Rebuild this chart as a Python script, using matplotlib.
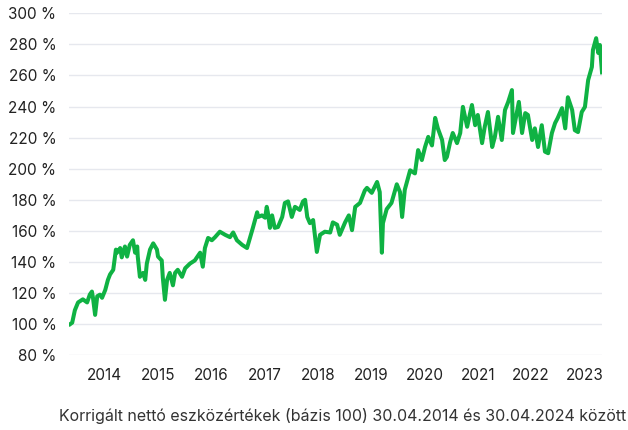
import matplotlib.pyplot as plt

# adatok (év, index)
evek = [2014.35, 2014.39, 2014.44, 2014.50, 2014.59, 2014.67, 2014.72, 2014.76, 2014.78, 2014.82,
        2014.86, 2014.91, 2014.95, 2015.01, 2015.06, 2015.10, 2015.16, 2015.21, 2015.23, 2015.29,
        2015.32, 2015.38, 2015.42, 2015.47, 2015.53, 2015.57, 2015.61, 2015.62, 2015.66, 2015.72,
        2015.76, 2015.79, 2015.85, 2015.91, 2015.98, 2016.00, 2016.07, 2016.09, 2016.13, 2016.17,
        2016.22, 2016.28, 2016.32, 2016.37, 2016.45, 2016.51, 2016.60, 2016.69, 2016.79, 2016.84,
        2016.88, 2016.94, 2017.01, 2017.07, 2017.16, 2017.26, 2017.35, 2017.41, 2017.48, 2017.58,
        2017.67, 2017.73, 2017.78, 2017.86, 2017.88, 2017.95, 2018.01, 2018.04, 2018.06, 2018.10,
        2018.14, 2018.19, 2018.25, 2018.33, 2018.38, 2018.44, 2018.51, 2018.57, 2018.66, 2018.72,
        2018.76, 2018.80, 2018.85, 2018.91, 2018.98, 2019.04, 2019.13, 2019.23, 2019.28, 2019.36,
        2019.41, 2019.51, 2019.58, 2019.64, 2019.70, 2019.79, 2019.88, 2019.92, 2020.01, 2020.11,
        2020.16, 2020.20, 2020.22, 2020.29, 2020.38, 2020.48, 2020.54, 2020.58, 2020.63, 2020.73,
        2020.82, 2020.88, 2020.95, 2021.01, 2021.07, 2021.14, 2021.20, 2021.25, 2021.33, 2021.38,
        2021.42, 2021.48, 2021.53, 2021.61, 2021.67, 2021.72, 2021.80, 2021.89, 2021.95, 2022.00,
        2022.08, 2022.13, 2022.19, 2022.27, 2022.32, 2022.38, 2022.45, 2022.51, 2022.57, 2022.64,
        2022.66, 2022.74, 2022.77, 2022.83, 2022.89, 2022.94, 2023.02, 2023.07, 2023.13, 2023.20,
        2023.26, 2023.32, 2023.39, 2023.45, 2023.50, 2023.58, 2023.64, 2023.69, 2023.77, 2023.82,
        2023.88, 2023.95, 2024.01, 2024.07, 2024.14, 2024.16, 2024.22, 2024.26, 2024.29, 2024.33]
ertekek = [100, 101, 109, 114, 116, 114, 119, 121, 117, 106,
           118, 119, 117, 122, 128.5, 132, 135, 148, 146, 149,
           143, 150, 143.5, 151, 154, 146, 150, 143.5, 130.5, 133,
           128.5, 139, 148, 152, 148, 143.5, 141, 130, 115.7, 128.5,
           133, 125, 133, 135, 130.5, 136, 139, 141, 146, 137,
           149, 155.5, 154, 156, 159.5, 157.5, 156, 159, 154, 151,
           149, 156, 162, 172, 169, 170, 168.5, 175.5, 172, 162,
           170, 162, 162.5, 169, 178, 179, 169, 175.5, 173.5, 179,
           180, 169, 165, 167, 146.5, 157.5, 159.5, 159, 165.5, 164,
           157.5, 165.5, 170, 160.5, 175.5, 178, 186, 187.7, 184.5, 191.5,
           185, 146, 165, 174, 178, 190, 185, 169, 186.5, 199,
           197, 212, 205.6, 214, 220.5, 215, 232.7, 226, 218.5, 205.6,
           207.6, 217, 223, 216.5, 223, 239.8, 227, 241, 228, 234.6,
           216.5, 227, 236.5, 214, 220.5, 233.4, 218.5, 237.8, 243, 250.6,
           223, 237.8, 243, 223, 235.8, 234.6, 218.5, 226, 214, 228,
           211, 210, 223, 229.4, 232.7, 239, 226, 246, 237.8, 224.8,
           223.6, 236.5, 239.8, 257, 265.5, 276.4, 284, 274.5, 279.6, 262]

tick_helyek = [2015, 2016, 2017, 2018, 2019, 2020, 2021, 2022, 2023, 2024]
tick_cimkek = ['2014', '2015', '2016', '2017', '2018', '2019', '2020', '2021', '2022', '2023']
y_ertekek = [80, 100, 120, 140, 160, 180, 200, 220, 240, 260, 280, 300]

plt.rcParams['font.family'] = ['Inter', 'DejaVu Sans']

fig = plt.figure(figsize=(6.28, 4.30), dpi=100)
ax = fig.add_axes([69 / 628, 1 - 355.3 / 430, 533 / 628, 342 / 430])

ax.plot(evek, ertekek, color='#0fb243', linewidth=2.9, solid_joinstyle='round')

ax.set_xlim(2014.33, 2024.33)
ax.set_ylim(80, 300)
ax.set_yticks(y_ertekek)
ax.set_yticklabels([f'{v} %' for v in y_ertekek])
ax.set_xticks(tick_helyek)
ax.set_xticklabels(tick_cimkek)

ax.grid(axis='y', color='#e6e8ee', linewidth=1.0)
ax.set_axisbelow(True)
for s in ax.spines.values():
    s.set_visible(False)
ax.tick_params(axis='both', length=0, labelsize=11, colors='#222222')
ax.tick_params(axis='y', pad=9)
ax.tick_params(axis='x', pad=9)

fig.text(0.545, 0.032, 'Korrigált nettó eszközértékek (bázis 100) 30.04.2014 és 30.04.2024 között',
         ha='center', va='center', fontsize=11.5, color='#333333')

fig.savefig('out.png', dpi=100)
